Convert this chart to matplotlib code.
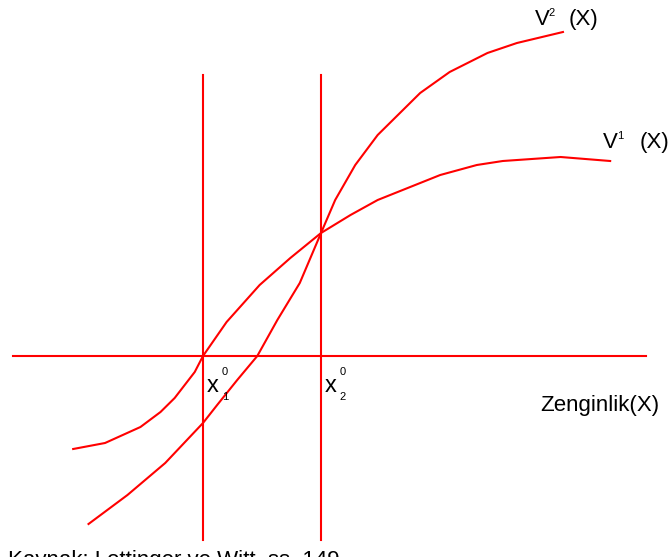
import matplotlib
matplotlib.use("Agg")
import matplotlib.pyplot as plt

plt.rcParams['font.family'] = ['Liberation Sans', 'DejaVu Sans']

# Utility curves (wealth X, utility V); x1 = 1, x2 = 2
v1_x = [-0.10, 0.17, 0.47, 0.64, 0.76, 0.93, 1.00, 1.20, 1.48, 1.74, 2.00,
        2.25, 2.48, 3.01, 3.32, 3.54, 4.03, 4.45]
v1_y = [-0.93, -0.87, -0.71, -0.56, -0.42, -0.16, 0.00, 0.34, 0.71, 0.98, 1.23,
        1.41, 1.56, 1.81, 1.91, 1.95, 1.99, 1.95]

v2_x = [0.03, 0.36, 0.68, 1.00, 1.12, 1.29, 1.46, 1.63, 1.82, 2.00, 2.12,
        2.29, 2.48, 2.84, 3.09, 3.41, 3.66, 4.05]
v2_y = [-1.68, -1.39, -1.07, -0.67, -0.49, -0.24, 0.00, 0.36, 0.73, 1.23, 1.56,
        1.91, 2.21, 2.63, 2.84, 3.03, 3.13, 3.24]

x_min, x_max = -0.61, 4.75      # horizontal axis
v_lo, v_hi = -1.84, 2.81        # vertical lines
x_marks = [1.0, 2.0]            # x1^0, x2^0

red = '#ff0000'

fig = plt.figure(figsize=(6.68, 5.57), dpi=100)
ax = fig.add_axes([0, 0, 1, 1])
ax.set_xlim(-0.72, 4.94)
ax.set_ylim(-2.01, 3.56)
ax.axis('off')

ax.plot([x_min, x_max], [0, 0], color=red, lw=1.5)
for xm in x_marks:
    ax.plot([xm, xm], [v_lo, v_hi], color=red, lw=1.5)

ax.plot(v1_x, v1_y, color=red, lw=1.5)
ax.plot(v2_x, v2_y, color=red, lw=1.5)

# curve labels
ax.text(3.81, 3.31, 'V', fontsize=16)
ax.text(3.93, 3.40, '2', fontsize=8)
ax.text(4.10, 3.31, '(X)', fontsize=16)

ax.text(4.39, 2.08, 'V', fontsize=16)
ax.text(4.51, 2.17, '1', fontsize=8)
ax.text(4.70, 2.08, '(X)', fontsize=16)

ax.text(3.86, -0.55, 'Zenginlik(X)', fontsize=16)

# x1^0 and x2^0
for xm, sub in zip(x_marks, ['1', '2']):
    ax.text(xm + 0.035, -0.36, 'x', fontsize=17)
    ax.text(xm + 0.16, -0.19, '0', fontsize=8)
    ax.text(xm + 0.16, -0.44, sub, fontsize=8)

# source line, cut off at the bottom edge as in the original
ax.text(-0.65, -2.10, 'Kaynak: Lottinger ve Witt, ss. 149', fontsize=16)

fig.savefig('out.png', dpi=100)
